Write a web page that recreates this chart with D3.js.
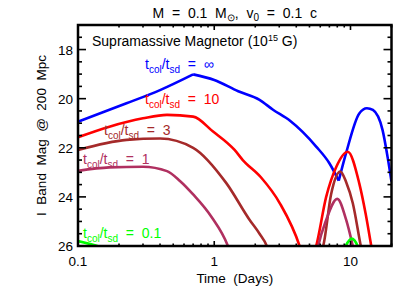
<!DOCTYPE html>
<html>
<head>
<meta charset="UTF-8">
<title>Supramassive Magnetar light curves</title>
<style>
  body { margin: 0; background: #fff; }
  svg text { font-family: "Liberation Sans", Arial, sans-serif; white-space: pre; }
</style>
</head>
<body>
<div id="chart"></div>
<script src="https://cdn.jsdelivr.net/npm/d3@7"></script>
<script>
// data: [time in days, I band mag]
const infRise = [[0.1, 20.94], [0.227, 20.19], [0.4, 19.65], [0.7, 19.01]];
const infFall = [[0.7, 19.01], [1.0, 19.24], [1.5, 19.7], [2.15, 20.05], [2.7, 20.45], [3.6, 20.9], [5.6, 21.95], [7.0, 22.63], [8.2, 23.34]];
const infBump = [[8.2, 23.34], [9.3, 22.2], [11.6, 20.6], [13.2, 20.39], [14.6, 20.46], [17.2, 21.28], [18.7, 22.36], [20, 23.38]];

const tenFirst = [[0.1, 21.57], [0.17, 21.14], [0.3, 20.8], [0.45, 20.66], [0.7, 20.73], [0.98, 21.34], [1.41, 22.09], [1.62, 22.5], [2.2, 23.2], [3.03, 24.26], [4.23, 26.0], [4.4, 26.3]];
const tenBump = [[5.4, 26.3], [5.6, 26.0], [6.63, 24.0], [7.86, 22.78], [9.55, 22.16], [11.6, 23.45], [12.9, 24.67], [14.2, 26.0], [14.5, 26.3]];

const threeFirst = [[0.1, 22.09], [0.227, 21.68], [0.4, 21.62], [0.7, 22.0], [1.23, 23.45], [1.82, 24.94], [2.15, 25.5], [2.43, 26.0], [2.5, 26.2]];
const threeBump = [[6.1, 26.2], [6.3, 26.0], [7.2, 23.9], [8.42, 22.97], [9.3, 23.4], [10.4, 24.26], [11.9, 26.0], [12.1, 26.2]];

const oneFirst = [[0.1, 22.94], [0.17, 22.8], [0.3, 22.77], [0.45, 22.95], [0.56, 23.35], [0.7, 23.9], [0.95, 24.8], [1.26, 26.0], [1.3, 26.2]];
const oneBump = [[5.7, 26.2], [5.8, 26.0], [6.63, 24.94], [8.0, 24.08], [9.3, 24.94], [10.4, 26.0], [10.6, 26.2]];

const tenthFirst = [[0.1, 25.8], [0.147, 26.05], [0.16, 26.12]];
const tenthBump = [[9.0, 26.1], [9.2, 26.0], [10.2, 25.7], [11.3, 26.0], [11.5, 26.1]];

const xTickVals = [0.1, 1, 10];
const xTickLabels = ["0.1", "1", "10"];
const yTickVals = [18, 20, 22, 24, 26];

const W = 415, H = 297;
const margin = { left: 78, right: 23.5, top: 25, bottom: 51 };

const svg = d3.select("#chart").append("svg")
    .attr("width", W)
    .attr("height", H);

const x = d3.scaleLog().domain([0.1, 20]).range([margin.left, W - margin.right]);
const y = d3.scaleLinear().domain([17, 26]).range([margin.top, H - margin.bottom]);

const x0 = x.range()[0], x1 = x.range()[1];
const y0 = y.range()[0], y1 = y.range()[1];

svg.append("clipPath").attr("id", "plot")
    .append("rect")
    .attr("x", x0).attr("y", y0)
    .attr("width", x1 - x0).attr("height", y1 - y0);

const line = d3.line()
    .x(d => x(d[0]))
    .y(d => y(d[1]))
    .curve(d3.curveMonotoneX);

const curves = [
    { pts: infRise, color: "#0000ff" },
    { pts: infFall, color: "#0000ff" },
    { pts: infBump, color: "#0000ff" },
    { pts: tenFirst, color: "#ff0000" },
    { pts: tenBump, color: "#ff0000" },
    { pts: threeFirst, color: "#a52a2a" },
    { pts: threeBump, color: "#a52a2a" },
    { pts: oneFirst, color: "#b03060" },
    { pts: oneBump, color: "#b03060" },
    { pts: tenthFirst, color: "#00ff00" },
    { pts: tenthBump, color: "#00ff00" }
];

svg.append("g").attr("clip-path", "url(#plot)")
    .selectAll("path").data(curves).enter().append("path")
    .attr("d", d => line(d.pts))
    .attr("fill", "none")
    .attr("stroke", d => d.color)
    .attr("stroke-width", 2.6)
    .attr("stroke-linejoin", "round");

// tick marks, inward, all four sides
const ticks = svg.append("g").attr("stroke", "#000");
const yMinor = d3.range(17, 26.01, 0.5);
yMinor.forEach(v => {
    const len = (v % 2 === 0) ? 8 : 4;
    ticks.append("line").attr("x1", x0).attr("x2", x0 + len).attr("y1", y(v)).attr("y2", y(v)).attr("stroke-width", 1.6);
    ticks.append("line").attr("x1", x1).attr("x2", x1 - len).attr("y1", y(v)).attr("y2", y(v)).attr("stroke-width", 1.6);
});
const xMinor = [];
[0.1, 1, 10].forEach(dec => { for (let k = 1; k <= 9; k++) if (dec * k <= 20) xMinor.push(dec * k); });
xMinor.push(20);
xMinor.forEach(v => {
    const major = xTickVals.some(t => Math.abs(t - v) < 1e-9);
    const len = major ? 5 : 2.5;
    ticks.append("line").attr("x1", x(v)).attr("x2", x(v)).attr("y1", y1).attr("y2", y1 - len).attr("stroke-width", 1.6);
    ticks.append("line").attr("x1", x(v)).attr("x2", x(v)).attr("y1", y0).attr("y2", y0 + len).attr("stroke-width", 1.6);
});

svg.append("rect")
    .attr("x", x0).attr("y", y0)
    .attr("width", x1 - x0).attr("height", y1 - y0)
    .attr("fill", "none").attr("stroke", "#000").attr("stroke-width", 2.5);

// tick labels
svg.selectAll("text.yt").data(yTickVals).enter().append("text")
    .attr("class", "yt")
    .attr("x", x0 - 5).attr("y", d => y(d) + 5)
    .attr("text-anchor", "end").attr("font-size", 13.5)
    .text(d => d);
svg.selectAll("text.xt").data(xTickVals).enter().append("text")
    .attr("class", "xt")
    .attr("x", d => x(d)).attr("y", y1 + 20)
    .attr("text-anchor", "middle").attr("font-size", 13.5)
    .text((d, i) => xTickLabels[i]);

// axis titles
svg.append("text")
    .attr("x", (x0 + x1) / 2).attr("y", y1 + 37)
    .attr("text-anchor", "middle").attr("font-size", 13.5)
    .text("Time  (Days)");
svg.append("text")
    .attr("transform", `translate(46,${(y0 + y1) / 2}) rotate(-90)`)
    .attr("text-anchor", "middle").attr("font-size", 13.5)
    .text("I  Band  Mag  @  200  Mpc");

// title
const title = svg.append("text")
    .attr("x", (x0 + x1) / 2).attr("y", 18)
    .attr("text-anchor", "middle").attr("font-size", 14);
title.append("tspan").text("M  =  0.1  M");
title.append("tspan").attr("font-size", 10).attr("dy", 3).text("\u2299");
title.append("tspan").attr("dy", -3).text(",  v");
title.append("tspan").attr("font-size", 10).attr("dy", 3).text("0");
title.append("tspan").attr("dy", -3).text("  =  0.1  c");

const sub = svg.append("text")
    .attr("x", 92).attr("y", 46).attr("font-size", 14);
sub.append("tspan").text("Supramassive Magnetor (10");
sub.append("tspan").attr("font-size", 9).attr("dy", -5).text("15");
sub.append("tspan").attr("dy", 5).text(" G)");

// curve labels
function ratioLabel(xp, yp, color, val) {
    const t = svg.append("text").attr("x", xp).attr("y", yp)
        .attr("font-size", 14).attr("fill", color);
    t.append("tspan").text("t");
    t.append("tspan").attr("font-size", 10).attr("dy", 4).text("col");
    t.append("tspan").attr("dy", -4).text("/t");
    t.append("tspan").attr("font-size", 10).attr("dy", 4).text("sd");
    t.append("tspan").attr("dy", -4).text("  =  " + val);
}
ratioLabel(145, 68.5, "#0000ff", "\u221e");
ratioLabel(145, 104, "#ff0000", "10");
ratioLabel(104, 135, "#a52a2a", "3");
ratioLabel(83, 164, "#b03060", "1");
ratioLabel(83, 238, "#00ff00", "0.1");
</script>
</body>
</html>
